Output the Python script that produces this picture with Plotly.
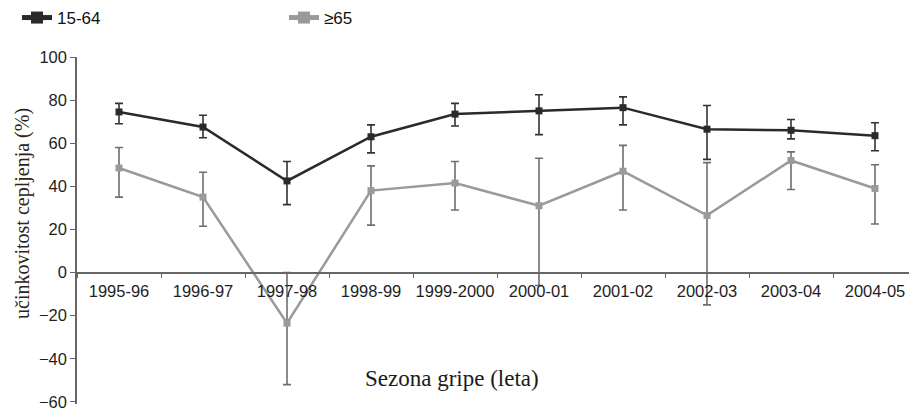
import plotly.graph_objects as go

# Influenza seasons
seasons = ["1995-96", "1996-97", "1997-98", "1998-99", "1999-2000",
           "2000-01", "2001-02", "2002-03", "2003-04", "2004-05"]

# Vaccine effectiveness (%), age 15-64, with upper / lower CI bounds
ve_15_64 = [74.5, 67.5, 42.5, 63.0, 73.5, 75.0, 76.5, 66.5, 66.0, 63.5]
ci_hi_15_64 = [78.5, 73.0, 51.5, 68.5, 78.5, 82.5, 81.5, 77.5, 71.0, 69.5]
ci_lo_15_64 = [69.0, 62.5, 31.5, 55.5, 68.0, 64.0, 68.5, 52.5, 62.0, 56.5]

# Vaccine effectiveness (%), age >=65, with upper / lower CI bounds
ve_65 = [48.5, 35.0, -23.5, 38.0, 41.5, 31.0, 47.0, 26.5, 52.0, 39.0]
ci_hi_65 = [58.0, 46.5, 0.0, 49.5, 51.5, 53.0, 59.0, 51.0, 56.0, 50.0]
ci_lo_65 = [35.0, 21.5, -52.0, 22.0, 29.0, -6.0, 29.0, -15.0, 38.5, 22.5]

y_ticks = [-60, -40, -20, 0, 20, 40, 60, 80, 100]


def err_plus(v, hi):
    return [h - x for x, h in zip(v, hi)]


def err_minus(v, lo):
    return [x - l for x, l in zip(v, lo)]


W, H = 909, 410
ML, MR, MT, MB = 77, 0, 57, 6
plot_w = W - ML - MR
plot_h = H - MT - MB
y_min, y_max = -61, 100


def px_x(p):
    return (p - ML) / plot_w


def px_y(p):
    return (H - MB - p) / plot_h


fig = go.Figure()

fig.add_trace(go.Scatter(
    x=seasons, y=ve_65, name="≥65", mode="lines+markers",
    line=dict(color="#9a9a9a", width=2.5),
    marker=dict(symbol="square", size=7, color="#9a9a9a"),
    error_y=dict(type="data", symmetric=False,
                 array=err_plus(ve_65, ci_hi_65),
                 arrayminus=err_minus(ve_65, ci_lo_65),
                 color="#6f6f6f", thickness=1.6, width=4),
    legend="legend2",
))

fig.add_trace(go.Scatter(
    x=seasons, y=ve_15_64, name="15-64", mode="lines+markers",
    line=dict(color="#2a2a2a", width=2.5),
    marker=dict(symbol="square", size=7, color="#2a2a2a"),
    error_y=dict(type="data", symmetric=False,
                 array=err_plus(ve_15_64, ci_hi_15_64),
                 arrayminus=err_minus(ve_15_64, ci_lo_15_64),
                 color="#333333", thickness=1.6, width=4),
    legend="legend",
))

sans = "Liberation Sans, Arial, sans-serif"
serif = "Liberation Serif, Times New Roman, serif"
legend_common = dict(
    orientation="h", xanchor="left", yanchor="middle",
    font=dict(family=sans, size=17, color="#111111"),
    bgcolor="rgba(0,0,0,0)", itemsizing="constant",
)

fig.update_layout(
    width=W, height=H,
    margin=dict(l=ML, r=MR, t=MT, b=MB, pad=0),
    paper_bgcolor="white", plot_bgcolor="white",
    showlegend=True,
    legend=dict(x=px_x(17), y=px_y(18), **legend_common),
    legend2=dict(x=px_x(284), y=px_y(18), **legend_common),
    xaxis=dict(
        type="category", categoryorder="array", categoryarray=seasons,
        range=[-0.5, -0.5 + plot_w / 84.0],
        anchor="free", position=(0 - y_min) / (y_max - y_min),
        showline=True, linecolor="#666666", linewidth=1.5,
        ticks="outside", ticklen=5, tickwidth=1.2, tickcolor="#666666",
        tickson="boundaries", showgrid=False, zeroline=False,
        tickangle=0, ticklabelstandoff=4, ticklabeloverflow="allow",
        tickfont=dict(family=sans, size=16.5, color="#1e1e1e"),
    ),
    yaxis=dict(
        range=[y_min, y_max], tickvals=y_ticks,
        showline=True, linecolor="#666666", linewidth=1.5,
        ticks="outside", ticklen=5, tickwidth=1.2, tickcolor="#666666",
        showgrid=False, zeroline=False, ticklabeloverflow="allow",
        tickfont=dict(family=sans, size=16.5, color="#1e1e1e"),
    ),
    annotations=[
        dict(text="učinkovitost cepljenja (%)", textangle=-90,
             xref="paper", yref="paper", x=px_x(22), y=px_y(214),
             xanchor="center", yanchor="middle", showarrow=False,
             font=dict(family=serif, size=20, color="#2b2520")),
        dict(text="Sezona gripe (leta)",
             xref="paper", yref="paper", x=px_x(452), y=px_y(378),
             xanchor="center", yanchor="middle", showarrow=False,
             font=dict(family=serif, size=23, color="#1a1a1a")),
    ],
)

fig.write_html("out.html")
